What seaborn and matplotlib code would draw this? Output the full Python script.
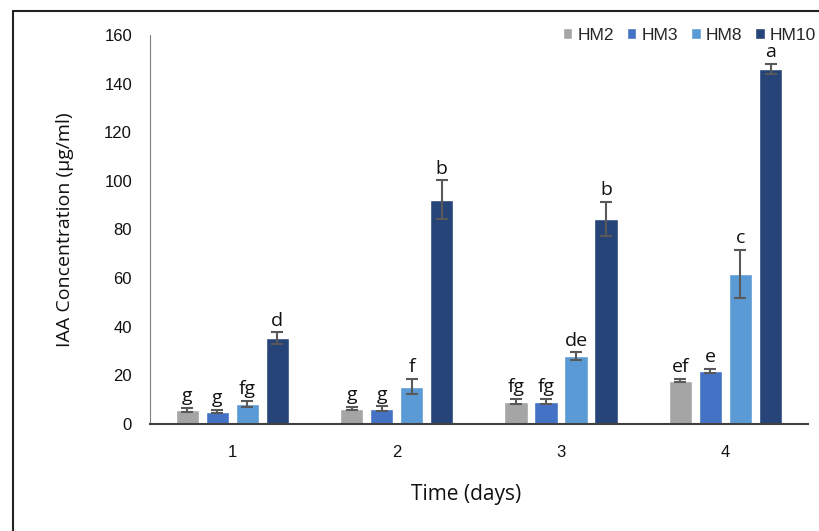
import pandas as pd
import seaborn as sns
import matplotlib.pyplot as plt
from matplotlib.lines import Line2D

days = ['1', '2', '3', '4']
strains = ['HM2', 'HM3', 'HM8', 'HM10']
colors = ['#A5A5A5', '#4472C4', '#5B9BD5', '#264478']

means = {
    'HM2': [5.8, 6.3, 9.2, 17.8],
    'HM3': [5.1, 6.3, 9.2, 21.9],
    'HM8': [8.2, 15.4, 28.0, 61.7],
    'HM10': [35.3, 92.2, 84.2, 146.1],
}
errs = {
    'HM2': [0.7, 0.7, 1.0, 0.6],
    'HM3': [0.6, 0.9, 1.0, 0.8],
    'HM8': [1.4, 3.1, 1.5, 10.0],
    'HM10': [2.4, 8.0, 7.0, 2.0],
}
letters = {
    'HM2': ['g', 'g', 'fg', 'ef'],
    'HM3': ['g', 'g', 'fg', 'e'],
    'HM8': ['fg', 'f', 'de', 'c'],
    'HM10': ['d', 'b', 'b', 'a'],
}

rows = []
for s in strains:
    for d, v in zip(days, means[s]):
        rows.append({'Time': d, 'Strain': s, 'IAA': v})
df = pd.DataFrame(rows)

sns.set_style('white')
fig = plt.figure(figsize=(8.2, 5.31), dpi=100)
ax = fig.add_axes([0.183, 0.2015, 0.802, 0.7326])

sns.barplot(data=df, x='Time', y='IAA', hue='Strain', hue_order=strains,
            palette=colors, width=0.73, gap=0.22, errorbar=None,
            saturation=1, ax=ax)

for cont, s in zip(ax.containers, strains):
    xs = [p.get_x() + p.get_width() / 2 for p in cont.patches]
    ax.errorbar(xs, means[s], yerr=errs[s], fmt='none', ecolor='#595959',
                elinewidth=1.5, capsize=4, capthick=1.5, zorder=3)
    for x, m, e, lab in zip(xs, means[s], errs[s], letters[s]):
        ax.annotate(lab, (x, m + e), xytext=(0, 2), textcoords='offset points',
                    ha='center', va='bottom', fontsize=14, family='Open Sans',
                    color='#111111')

ax.set_xlim(-0.5, 3.5)
ax.set_ylim(0, 160)
ax.set_yticks(range(0, 161, 20))
for sp in ['top', 'right']:
    ax.spines[sp].set_visible(False)
ax.spines['left'].set_color('#7F7F7F')
ax.spines['left'].set_linewidth(0.8)
ax.spines['bottom'].set_color('#404040')
ax.spines['bottom'].set_linewidth(1.5)
ax.tick_params(axis='y', length=0, pad=13, labelsize=12, colors='#111111')
ax.tick_params(axis='x', length=0, pad=15, labelsize=12, colors='#111111')
for t in ax.get_xticklabels() + ax.get_yticklabels():
    t.set_family('Liberation Sans')

ax.set_xlabel('Time (days)', fontsize=15, family='Open Sans', color='#111111')
ax.xaxis.set_label_coords(0.48, -0.155)
ax.set_ylabel('IAA Concentration (µg/ml)', fontsize=14, family='Open Sans', color='#111111')
ax.yaxis.set_label_coords(-0.115, 0.5)

handles, labels = ax.get_legend_handles_labels()
leg = ax.legend(handles, labels, loc='center left', bbox_to_anchor=(0.686, 0.934),
                bbox_transform=fig.transFigure, ncol=4, frameon=False,
                handlelength=0.55, handleheight=0.55, handletextpad=0.3,
                columnspacing=0.75, borderpad=0, borderaxespad=0,
                prop={'family': 'Liberation Sans', 'size': 12.5})

# outer frame (only top and left edges are visible in the crop)
fig.add_artist(Line2D([0.0159, 1.0], [0.979, 0.979], color='#222222', lw=1.5,
                      transform=fig.transFigure))
fig.add_artist(Line2D([0.0159, 0.0159], [0.0, 0.979], color='#222222', lw=1.5,
                      transform=fig.transFigure))

fig.savefig('out.png', dpi=100)
